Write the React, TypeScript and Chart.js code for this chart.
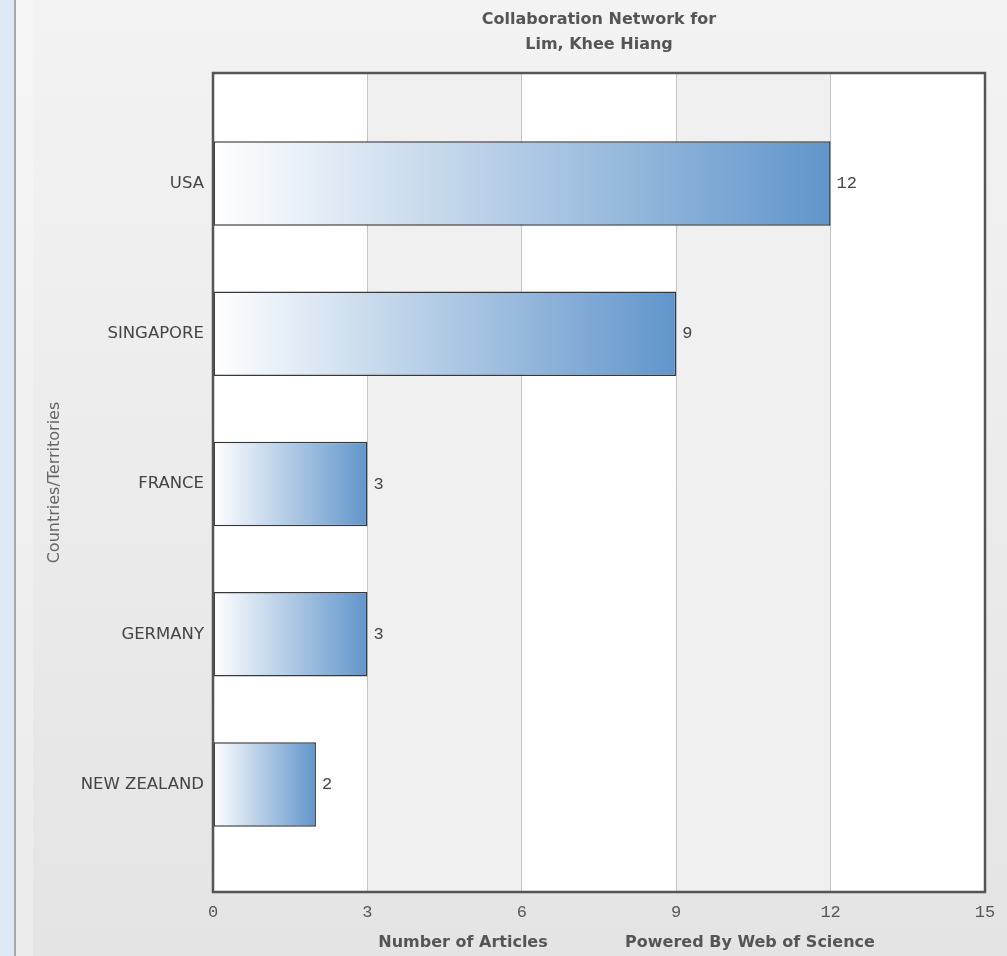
import React, { useEffect, useRef } from "react";
import { Chart, registerables } from "chart.js";

Chart.register(...registerables);

const categories = ["USA", "SINGAPORE", "FRANCE", "GERMANY", "NEW ZEALAND"];
const articleCounts = [12, 9, 3, 3, 2];
const xTickValues = [0, 3, 6, 9, 12, 15];
const titleLines = ["Collaboration Network for", "Lim, Khee Hiang"];
const xAxisTitle = "Number of Articles";
const creditText = "Powered By Web of Science";
const yAxisTitle = "Countries/Territories";

const SANS = "'DejaVu Sans', Verdana, sans-serif";
const MONO = "'Liberation Mono', 'Courier New', monospace";

const Y_MIN = -0.735;
const Y_MAX = 4.715;

const backgroundPlugin = {
  id: "pageBackground",
  beforeDraw(chart: any) {
    const { ctx, width, height, chartArea, scales } = chart;
    ctx.save();
    ctx.fillStyle = "#dfe9f4";
    ctx.fillRect(0, 0, 14, height);
    ctx.fillStyle = "#a9a9a9";
    ctx.fillRect(14, 0, 2, height);
    const g = ctx.createLinearGradient(0, 0, 0, height);
    g.addColorStop(0, "#f3f3f3");
    g.addColorStop(1, "#e4e4e4");
    ctx.fillStyle = g;
    ctx.fillRect(16, 0, width - 16, height);
    ctx.fillStyle = "rgba(255,255,255,0.25)";
    ctx.fillRect(16, 0, 17, height);
    if (chartArea) {
      const xs = scales.x;
      ctx.fillStyle = "#ffffff";
      ctx.fillRect(chartArea.left, chartArea.top, chartArea.right - chartArea.left, chartArea.bottom - chartArea.top);
      ctx.fillStyle = "#f0f0f0";
      for (let i = 1; i < xTickValues.length - 1; i += 2) {
        const a = xs.getPixelForValue(xTickValues[i]);
        const b = xs.getPixelForValue(xTickValues[i + 1]);
        ctx.fillRect(a, chartArea.top, b - a, chartArea.bottom - chartArea.top);
      }
    }
    ctx.restore();
  },
};

const overlayPlugin = {
  id: "overlay",
  afterDatasetsDraw(chart: any) {
    const { ctx, chartArea } = chart;
    const meta = chart.getDatasetMeta(0);
    ctx.save();
    ctx.font = `17px ${MONO}`;
    ctx.fillStyle = "#444";
    ctx.textAlign = "left";
    ctx.textBaseline = "middle";
    meta.data.forEach((el: any, i: number) => {
      ctx.fillText(String(articleCounts[i]), el.x + 6, el.y);
    });
    ctx.strokeStyle = "#555555";
    ctx.lineWidth = 2.5;
    ctx.strokeRect(chartArea.left, chartArea.top, chartArea.right - chartArea.left, chartArea.bottom - chartArea.top);
    ctx.font = `bold 16px ${SANS}`;
    ctx.fillStyle = "#555";
    ctx.textAlign = "center";
    ctx.textBaseline = "middle";
    ctx.fillText(xAxisTitle, chartArea.left + 250, chartArea.bottom + 51);
    ctx.fillText(creditText, chartArea.left + 537, chartArea.bottom + 51);
    ctx.restore();
  },
};

export default function App() {
  const canvasRef = useRef<HTMLCanvasElement | null>(null);

  useEffect(() => {
    const canvas = canvasRef.current;
    if (!canvas) return;
    const chart = new Chart(canvas, {
      type: "bar",
      data: {
        datasets: [
          {
            data: articleCounts.map((v, i) => ({ x: v, y: i })),
            backgroundColor: (c: any) => {
              const ch = c.chart;
              if (!ch.chartArea) return "#6699cc";
              const xs = ch.scales.x;
              const x0 = xs.getPixelForValue(0);
              const x1 = xs.getPixelForValue(articleCounts[c.dataIndex] ?? 1);
              const g = ch.ctx.createLinearGradient(x0, 0, x1, 0);
              g.addColorStop(0, "#ffffff");
              g.addColorStop(1, "#6195cb");
              return g;
            },
            borderColor: "#383838",
            borderWidth: 1.5,
            borderSkipped: false,
            barPercentage: 0.562,
            categoryPercentage: 1,
          },
        ],
      },
      options: {
        indexAxis: "y",
        animation: false,
        responsive: true,
        maintainAspectRatio: false,
        layout: { padding: { left: 0, right: 22, top: 0, bottom: 0 } },
        plugins: {
          legend: { display: false },
          tooltip: { enabled: false },
          title: {
            display: true,
            text: titleLines,
            fullSize: false,
            color: "#555",
            font: { family: SANS, weight: "bold", size: 16, lineHeight: 25 / 16 },
            padding: { top: 7.5, bottom: 15.5 },
          },
        },
        scales: {
          x: {
            type: "linear",
            position: "bottom",
            min: 0,
            max: 15,
            afterBuildTicks: (s: any) => {
              s.ticks = xTickValues.map((v) => ({ value: v }));
            },
            afterFit: (s: any) => {
              s.height = 64;
            },
            ticks: {
              color: "#555",
              font: { family: MONO, size: 17 },
              padding: 10,
            },
            grid: { color: "#c4c4c4", lineWidth: 1, drawTicks: false },
            border: { display: false },
          },
          y: {
            type: "linear",
            reverse: true,
            offset: false,
            bounds: "data",
            min: Y_MIN,
            max: Y_MAX,
            afterBuildTicks: (s: any) => {
              s.ticks = categories.map((_, i) => ({ value: i }));
              s.min = Y_MIN;
              s.max = Y_MAX;
            },
            afterFit: (s: any) => {
              s.width = 213;
            },
            ticks: {
              color: "#444",
              font: { family: SANS, size: 16.5 },
              padding: 9,
              callback: (v: any) => categories[v] ?? "",
            },
            grid: { display: false, drawTicks: false, offset: false },
            border: { display: false },
            title: {
              display: true,
              text: yAxisTitle,
              color: "#666",
              font: { family: SANS, size: 16 },
              padding: { top: 45, bottom: 0 },
            },
          },
        },
      },
      plugins: [backgroundPlugin, overlayPlugin],
    });
    return () => chart.destroy();
  }, []);

  return (
    <div style={{ position: "absolute", left: 0, top: 0, width: 1007, height: 956 }}>
      <canvas ref={canvasRef} />
    </div>
  );
}
